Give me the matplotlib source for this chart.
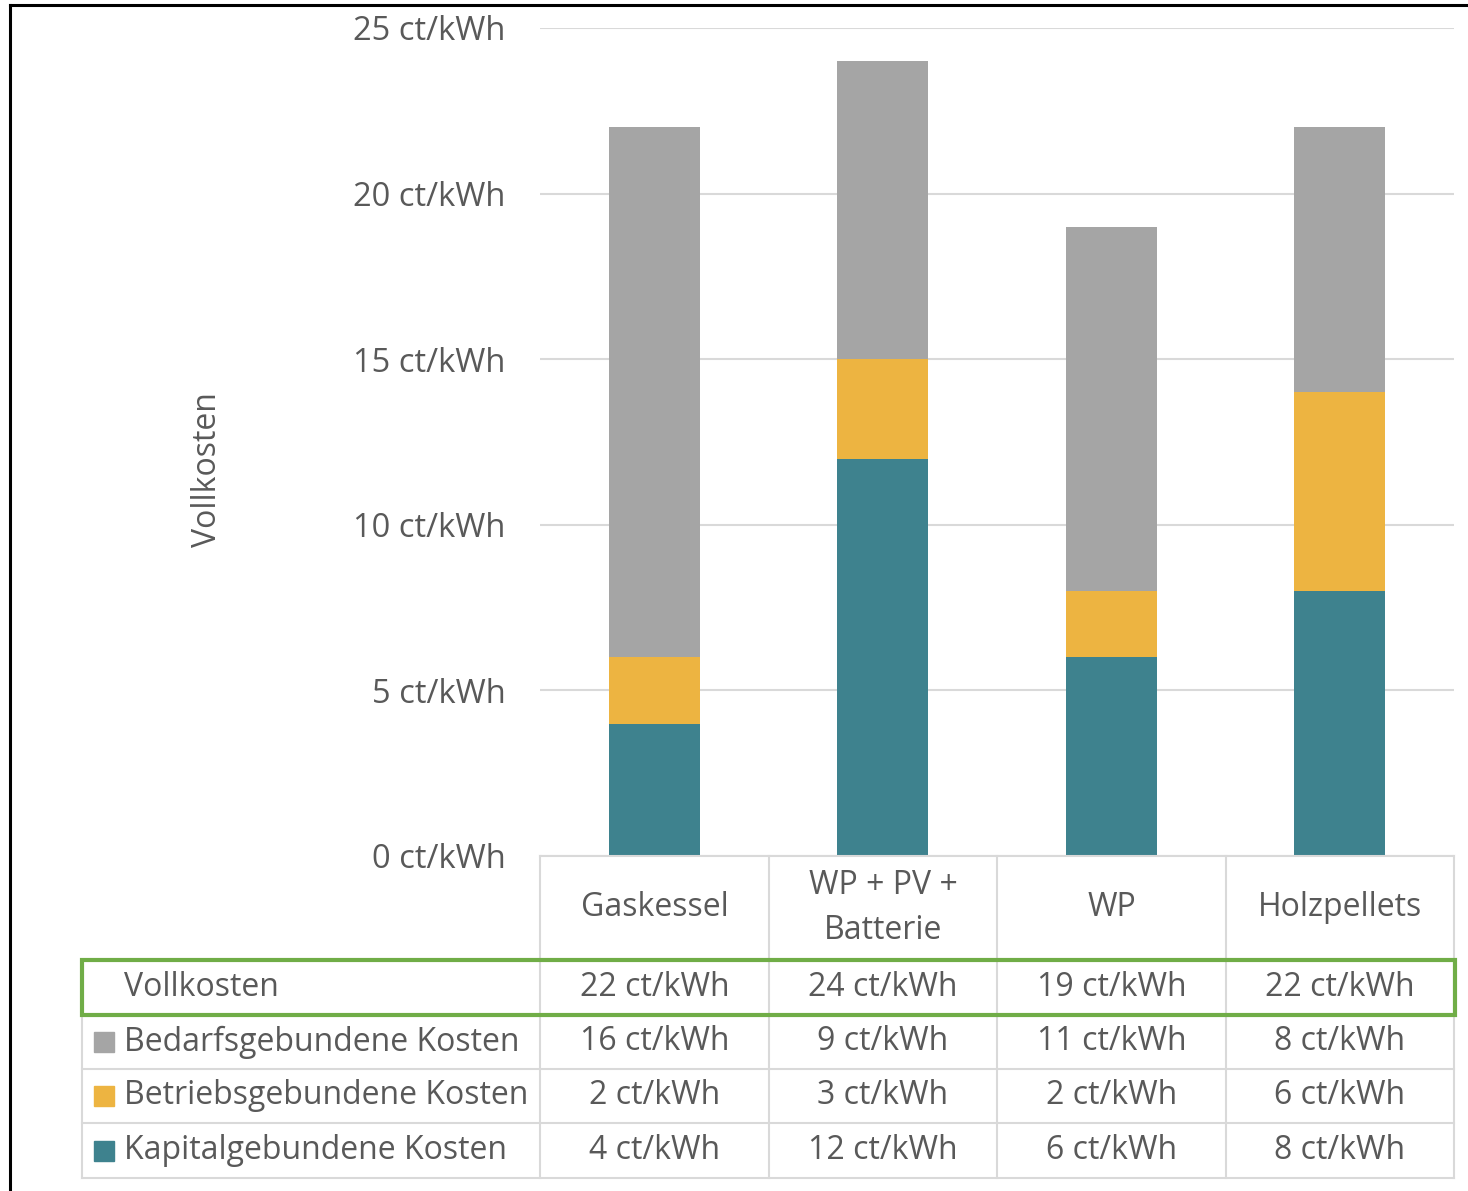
import matplotlib.pyplot as plt
from matplotlib.patches import Rectangle
import numpy as np

plt.rcParams['font.family'] = ['Open Sans', 'DejaVu Sans']

# Data
categories = ["Gaskessel", "WP + PV +\nBatterie", "WP", "Holzpellets"]
kapital = [4, 12, 6, 8]
betrieb = [2, 3, 2, 6]
bedarf = [16, 9, 11, 8]
vollkosten = [22, 24, 19, 22]
series_names = ["Bedarfsgebundene Kosten", "Betriebsgebundene Kosten", "Kapitalgebundene Kosten"]
yticks = [0, 5, 10, 15, 20, 25]

c_bedarf = "#A5A5A5"
c_betrieb = "#EDB441"
c_kapital = "#3E828E"
txt = "#595959"
gridc = "#D9D9D9"
green = "#70AD47"

W, H = 1468, 1191
fig = plt.figure(figsize=(W / 100, H / 100), dpi=100)

# plot area in pixels
px0, px1 = 540, 1454
py_top, py_bot = 28, 856
ax = fig.add_axes([px0 / W, 1 - py_bot / H, (px1 - px0) / W, (py_bot - py_top) / H])

x = np.arange(len(categories))
bw = 0.4
ax.bar(x, kapital, bw, color=c_kapital)
ax.bar(x, betrieb, bw, bottom=kapital, color=c_betrieb)
ax.bar(x, bedarf, bw, bottom=np.array(kapital) + np.array(betrieb), color=c_bedarf)
ax.set_xlim(-0.5, len(categories) - 0.5)
ax.set_ylim(0, 25)
ax.set_yticks(yticks)
ax.set_yticklabels([f"{v} ct/kWh" for v in yticks], fontsize=23.5, color=txt)
ax.tick_params(axis="y", length=0, pad=25)
ax.set_xticks([])
ax.yaxis.grid(True, color=gridc, linewidth=1.5)
ax.set_axisbelow(True)
for s in ax.spines.values():
    s.set_visible(False)

# overlay in pixel coordinates for table
ov = fig.add_axes([0, 0, 1, 1], facecolor="none")
ov.set_xlim(0, W)
ov.set_ylim(H, 0)
ov.axis("off")

# outer frame (top and left)
ov.plot([10, W], [5, 5], color="black", lw=2.2)
ov.plot([10, 10], [5, H], color="black", lw=2.2)

col_edges = [540, 769, 997, 1226, 1454]
row_edges = [856, 960, 1015, 1069, 1123, 1178]
lw = 1.5
# header row lines
ov.plot([540, 1454], [856, 856], color=gridc, lw=lw)
for xe in col_edges:
    ov.plot([xe, xe], [856, 1178], color=gridc, lw=lw)
ov.plot([82, 82], [960, 1178], color=gridc, lw=lw)
for ye in row_edges[1:]:
    ov.plot([82, 1454], [ye, ye], color=gridc, lw=lw)

centers = [(col_edges[i] + col_edges[i + 1]) / 2 for i in range(4)]
fs = 23
for cx, cat in zip(centers, categories):
    ov.text(cx, 908, cat, ha="center", va="center", fontsize=fs, color=txt, linespacing=1.45)

rows = [("Vollkosten", None, vollkosten),
        (series_names[0], c_bedarf, bedarf),
        (series_names[1], c_betrieb, betrieb),
        (series_names[2], c_kapital, kapital)]
for i, (name, col, vals) in enumerate(rows):
    yc = (row_edges[i + 1] + row_edges[i + 2]) / 2
    if col is not None:
        ov.add_patch(Rectangle((94, yc - 10), 20, 20, color=col))
    ov.text(124, yc, name, ha="left", va="center", fontsize=fs, color=txt)
    for cx, v in zip(centers, vals):
        ov.text(cx, yc, f"{v} ct/kWh", ha="center", va="center", fontsize=fs, color=txt)

# green highlight box
ov.add_patch(Rectangle((82, 960), 1373, 55, fill=False, edgecolor=green, lw=3, zorder=5))

fig.text(207 / W, 1 - 470 / H, "Vollkosten", rotation=90, ha="center", va="center",
         fontsize=fs, color=txt)

fig.savefig("out.png", dpi=100)
